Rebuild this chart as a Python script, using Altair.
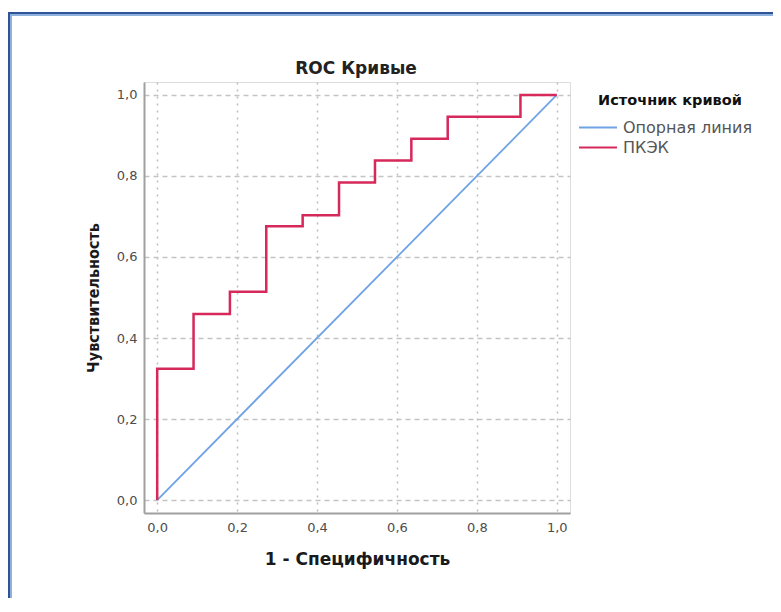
import altair as alt
import pandas as pd

# ROC step corners (1 - specificity, sensitivity)
fpr_steps = [0.0, 0.0, 0.091, 0.182, 0.273, 0.364, 0.455, 0.545, 0.636, 0.727, 0.909, 1.0]
tpr_steps = [0.0, 0.324, 0.459, 0.514, 0.676, 0.703, 0.784, 0.838, 0.892, 0.946, 1.0, 1.0]
ref_x = [0.0, 1.0]
ref_y = [0.0, 1.0]
series = ["Опорная линия", "ПКЭК"]
colors = ["#6fa3e6", "#d6285a"]
tick_values = [0.0, 0.2, 0.4, 0.6, 0.8, 1.0]
chart_title = ["ROC Кривые"]

df_roc = pd.DataFrame({"x": fpr_steps, "y": tpr_steps, "s": series[1],
                       "i": list(range(len(fpr_steps)))})
df_ref = pd.DataFrame({"x": ref_x, "y": ref_y, "s": series[0], "i": [0, 1]})
df_one = pd.DataFrame({"a": [0]})
df_title = pd.DataFrame({"t": chart_title})

label_expr = "replace(format(datum.value, '.1f'), '.', ',')"

x_enc = alt.X("x:Q", scale=alt.Scale(domain=[-0.033, 1.033], nice=False, zero=False),
              axis=alt.Axis(values=tick_values, labelExpr=label_expr,
                            title="1 - Специфичность",
                            titleFont="DejaVu Sans", titleFontSize=17, titleFontWeight="bold",
                            titleColor="#1a1a1a", titlePadding=17,
                            labelFont="DejaVu Sans", labelFontSize=13, labelColor="#4d4d4d",
                            labelPadding=8, ticks=False,
                            domainColor="#a0a0a0", domainWidth=2,
                            grid=True, gridDash=[2, 5], gridColor="#bdbdbd", gridWidth=1.5))
y_enc = alt.Y("y:Q", scale=alt.Scale(domain=[-0.032, 1.032], nice=False, zero=False),
              axis=alt.Axis(values=tick_values, labelExpr=label_expr,
                            title="Чувствительность",
                            titleFont="DejaVu Sans Condensed", titleFontSize=16, titleFontWeight="bold",
                            titleColor="#1a1a1a", titlePadding=15,
                            labelFont="DejaVu Sans", labelFontSize=13, labelColor="#4d4d4d",
                            labelPadding=7, ticks=False,
                            domainColor="#a0a0a0", domainWidth=2,
                            grid=True, gridDash=[5, 4], gridColor="#c4c4c4", gridWidth=1.5))
color_enc = alt.Color("s:N", scale=alt.Scale(domain=series, range=colors),
                      legend=alt.Legend(title="Источник кривой", orient="none",
                                        legendX=443, legendY=12,
                                        titleFont="DejaVu Sans", titleFontSize=14.5,
                                        titleFontWeight="bold", titleColor="#111111",
                                        titleAnchor="middle", titlePadding=8,
                                        labelFont="DejaVu Sans", labelFontSize=16,
                                        labelColor="#555555", labelOffset=14,
                                        symbolType="M-2,0H2", symbolSize=361,
                                        symbolStrokeWidth=2.2, rowPadding=1, padding=0))

ref = alt.Chart(df_ref).mark_line(strokeWidth=1.8).encode(
    x=x_enc, y=y_enc, color=color_enc, order="i:Q")
roc = alt.Chart(df_roc).mark_line(strokeWidth=2.5, interpolate="step-after").encode(
    x=x_enc, y=y_enc, color=color_enc, order="i:Q")

title_mark = alt.Chart(df_title).mark_text(
    font="DejaVu Sans", fontSize=17, fontWeight="bold", color="#222222",
    align="center", baseline="middle").encode(
    x=alt.value(212), y=alt.value(-13), text="t:N")

# decorative frame of the screenshot
frame_top_dark = alt.Chart(df_one).mark_rule(color="#2f5496", strokeWidth=2).encode(
    x=alt.value(-136), x2=alt.value(640), y=alt.value(-69))
frame_top_light = alt.Chart(df_one).mark_rule(color="#8fb0dd", strokeWidth=2).encode(
    x=alt.value(-134), x2=alt.value(640), y=alt.value(-67))
frame_left_dark = alt.Chart(df_one).mark_rule(color="#2f5496", strokeWidth=2).encode(
    x=alt.value(-135), y=alt.value(-70), y2=alt.value(540))
frame_left_light = alt.Chart(df_one).mark_rule(color="#8fb0dd", strokeWidth=2).encode(
    x=alt.value(-133), y=alt.value(-68), y2=alt.value(540))

chart = alt.layer(ref, roc, title_mark, frame_top_dark, frame_top_light,
                  frame_left_dark, frame_left_light).properties(
    width=426, height=431,
    autosize=alt.AutoSizeParams(type="none"),
    padding={"left": 136, "top": 74, "right": 203, "bottom": 85},
).configure_view(stroke=None).configure(background="white")

chart.save("out.html", embed_options={"renderer": "svg", "actions": False})
